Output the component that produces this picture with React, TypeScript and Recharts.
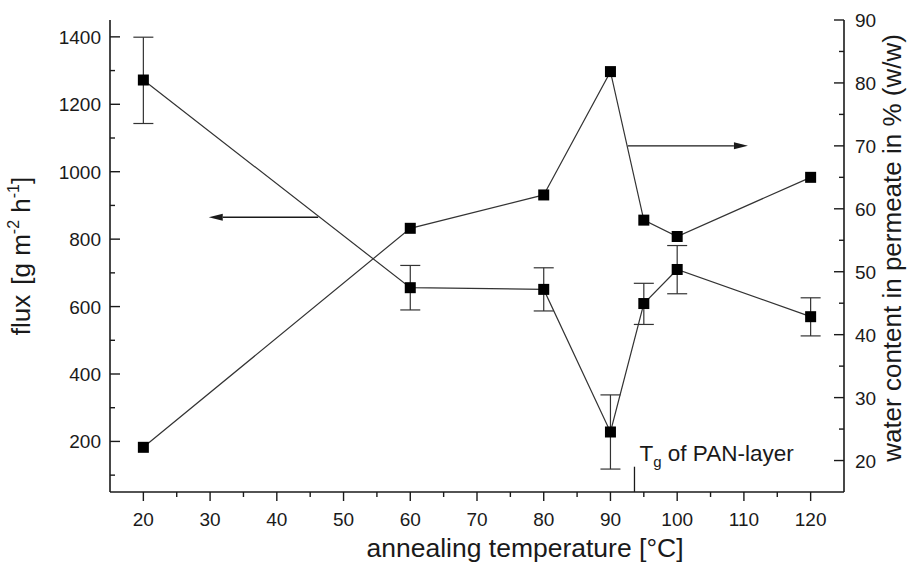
import { ComposedChart, Line, XAxis, YAxis, ErrorBar, ReferenceLine } from 'recharts';

// annealing temperature [°C]
const temps = [20, 60, 80, 90, 95, 100, 120];
// flux [g m-2 h-1] with error range
const flux = [1272, 656, 651, 228, 609, 710, 570];
const fluxLow = [1143, 590, 587, 118, 547, 638, 513];
const fluxHigh = [1399, 722, 715, 338, 669, 781, 626];
// water content in permeate [% w/w]
const water = [22.1, 56.9, 62.2, 81.8, 58.2, 55.6, 65.0];

const xTicks = [20, 25, 30, 35, 40, 45, 50, 55, 60, 65, 70, 75, 80, 85, 90, 95, 100, 105, 110, 115, 120];
const fluxTicks = [100, 200, 300, 400, 500, 600, 700, 800, 900, 1000, 1100, 1200, 1300, 1400];
const waterTicks = [20, 25, 30, 35, 40, 45, 50, 55, 60, 65, 70, 75, 80, 85, 90];

// annotations (data coordinates)
const fluxArrow = [{ x: 46.2, y: 865 }, { x: 29.8, y: 865 }];
const waterArrow = [{ x: 92.6, y: 70 }, { x: 110.6, y: 70 }];
const tgLine = [{ x: 93.6, y: 50 }, { x: 93.6, y: 125 }];

const data = temps.map((t, i) => ({
  t,
  flux: flux[i],
  fluxErr: [flux[i] - fluxLow[i], fluxHigh[i] - flux[i]],
  water: water[i],
}));

const FONT = '"Liberation Sans", Arial, Helvetica, sans-serif';
const INK = '#1a1a1a';

const BottomTick = (props: any) => {
  const { x, y, payload } = props;
  const major = payload.value % 10 === 0;
  return (
    <g>
      <line x1={x} y1={y} x2={x} y2={y + (major ? 9 : 5)} stroke={INK} strokeWidth={1.4} />
      {major && (
        <text x={x} y={y + 34} textAnchor="middle" fontSize={19} fontFamily={FONT} fill={INK}>
          {payload.value}
        </text>
      )}
    </g>
  );
};

const TopTick = (props: any) => {
  const { x, y, payload } = props;
  const major = payload.value % 10 === 0;
  return <line x1={x} y1={y} x2={x} y2={y + (major ? 9 : 5)} stroke={INK} strokeWidth={1.4} />;
};

const LeftTick = (props: any) => {
  const { x, y, payload } = props;
  const major = payload.value % 200 === 0;
  return (
    <g>
      <line x1={x} y1={y} x2={x + (major ? 10 : 5)} y2={y} stroke={INK} strokeWidth={1.4} />
      {major && (
        <text x={x - 9} y={y + 7} textAnchor="end" fontSize={19} fontFamily={FONT} fill={INK}>
          {payload.value}
        </text>
      )}
    </g>
  );
};

const RightTick = (props: any) => {
  const { x, y, payload } = props;
  const major = payload.value % 10 === 0;
  return (
    <g>
      <line x1={x} y1={y} x2={x - (major ? 10 : 5)} y2={y} stroke={INK} strokeWidth={1.4} />
      {major && (
        <text x={x + 11} y={y + 7} textAnchor="start" fontSize={19} fontFamily={FONT} fill={INK}>
          {payload.value}
        </text>
      )}
    </g>
  );
};

const XTitle = (props: any) => {
  const vb = props.viewBox || { x: 110, y: 492, width: 734 };
  return (
    <text x={vb.x + vb.width / 2 + 48} y={vb.y + 65} textAnchor="middle" fontSize={26.5} fontFamily={FONT} fill={INK}>
      annealing temperature [°C]
    </text>
  );
};

const FluxTitle = () => (
  <text transform="translate(30,256) rotate(-90)" textAnchor="middle" fontSize={26} fontFamily={FONT} fill={INK}>
    <tspan>flux</tspan>
    <tspan dx={10}>[g m</tspan>
    <tspan fontSize={16} dy={-11}>-2</tspan>
    <tspan dy={11}> h</tspan>
    <tspan fontSize={16} dy={-11}>-1</tspan>
    <tspan dy={11}>]</tspan>
  </text>
);

const WaterTitle = () => (
  <text transform="translate(901,248) rotate(-90)" textAnchor="middle" fontSize={26} fontFamily={FONT} fill={INK}>
    water content in permeate in % (w/w)
  </text>
);

const Square = (props: any) => {
  const { cx, cy, index } = props;
  if (cx == null || cy == null) return <g key={`s-${index}`} />;
  return <rect key={`s-${index}`} x={cx - 5.5} y={cy - 5.5} width={11} height={11} fill="#000" />;
};

const Arrow = (props: any) => {
  const { x1, y1, x2, y2 } = props;
  const dir = x2 > x1 ? 1 : -1;
  const head = 14;
  return (
    <g>
      <line x1={x1} y1={y1} x2={x2 - dir * head} y2={y2} stroke={INK} strokeWidth={1.3} />
      <polygon
        points={`${x2},${y2} ${x2 - dir * head},${y2 - 3.5} ${x2 - dir * head},${y2 + 3.5}`}
        fill={INK}
      />
    </g>
  );
};

const TgMark = (props: any) => {
  const { x1, y1, x2, y2 } = props;
  const top = Math.min(y1, y2);
  return (
    <g>
      <line x1={x1} y1={y1} x2={x2} y2={y2} stroke={INK} strokeWidth={1.3} />
      <text x={x1 + 5} y={top - 6} fontSize={22.5} fontFamily={FONT} fill={INK}>
        <tspan>T</tspan>
        <tspan fontSize={15} dy={6}>g</tspan>
        <tspan dy={-6}> of PAN-layer</tspan>
      </text>
    </g>
  );
};

export default function App() {
  return (
    <div style={{ position: 'absolute', left: 0, top: 0, width: 917, height: 574, background: '#fff' }}>
      <ComposedChart
        width={917}
        height={574}
        data={data}
        margin={{ top: 20, right: 13, bottom: 22, left: 30 }}
      >
        <XAxis
          xAxisId="top"
          orientation="top"
          dataKey="t"
          type="number"
          domain={[15, 125]}
          allowDataOverflow
          ticks={xTicks}
          interval={0}
          height={0}
          tickSize={0}
          tickMargin={0}
          tick={<TopTick />}
          tickLine={false}
          axisLine={{ stroke: INK, strokeWidth: 1.6 }}
        />
        <XAxis
          dataKey="t"
          type="number"
          domain={[15, 125]}
          allowDataOverflow
          ticks={xTicks}
          interval={0}
          height={60}
          tickSize={0}
          tickMargin={0}
          tick={<BottomTick />}
          tickLine={false}
          axisLine={{ stroke: INK, strokeWidth: 1.6 }}
          label={<XTitle />}
        />
        <YAxis
          yAxisId="left"
          orientation="left"
          type="number"
          domain={[50, 1450]}
          allowDataOverflow
          ticks={fluxTicks}
          interval={0}
          width={80}
          tickSize={0}
          tickMargin={0}
          tick={<LeftTick />}
          tickLine={false}
          axisLine={{ stroke: INK, strokeWidth: 1.6 }}
          label={<FluxTitle />}
        />
        <YAxis
          yAxisId="right"
          orientation="right"
          type="number"
          domain={[15, 90]}
          allowDataOverflow
          ticks={waterTicks}
          interval={0}
          width={60}
          tickSize={0}
          tickMargin={0}
          tick={<RightTick />}
          tickLine={false}
          axisLine={{ stroke: INK, strokeWidth: 1.6 }}
          label={<WaterTitle />}
        />
        <Line
          yAxisId="left"
          dataKey="flux"
          type="linear"
          stroke="#333"
          strokeWidth={1.2}
          dot={Square}
          activeDot={false}
          isAnimationActive={false}
        >
          <ErrorBar dataKey="fluxErr" width={10} stroke="#333" strokeWidth={1.2} direction="y" isAnimationActive={false} />
        </Line>
        <Line
          yAxisId="right"
          dataKey="water"
          type="linear"
          stroke="#333"
          strokeWidth={1.2}
          dot={Square}
          activeDot={false}
          isAnimationActive={false}
        />
        <ReferenceLine yAxisId="left" segment={fluxArrow} shape={Arrow} ifOverflow="visible" />
        <ReferenceLine yAxisId="right" segment={waterArrow} shape={Arrow} ifOverflow="visible" />
        <ReferenceLine yAxisId="left" segment={tgLine} shape={TgMark} ifOverflow="visible" />
      </ComposedChart>
    </div>
  );
}
